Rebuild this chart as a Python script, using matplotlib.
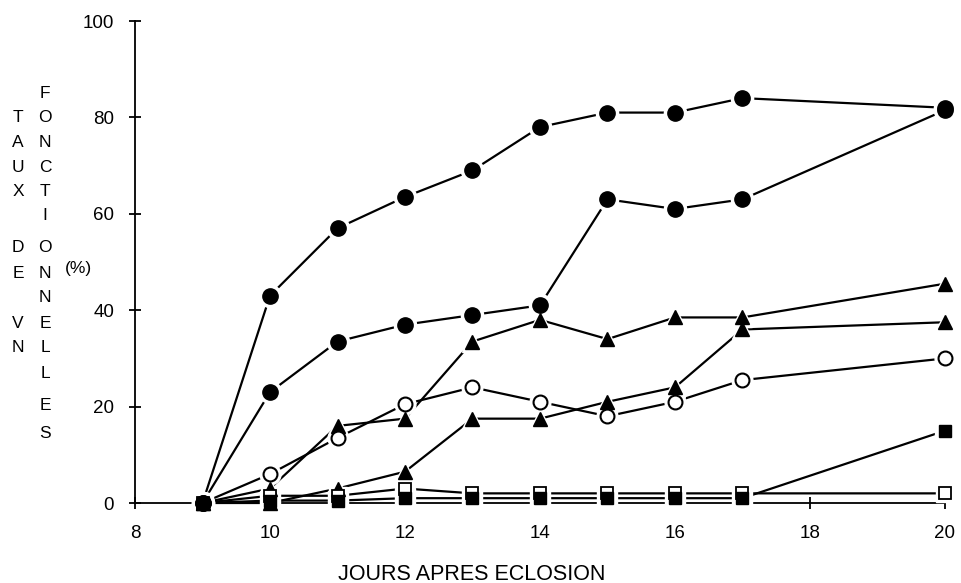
import matplotlib
matplotlib.use("Agg")
import matplotlib.pyplot as plt

plt.rcParams["font.family"] = ["Liberation Sans", "DejaVu Sans"]

# Days after hatching
days = [9, 10, 11, 12, 13, 14, 15, 16, 17, 20]

# Rate of functional VN (%) for each group
circ_fill_a = [0, 43, 57, 63.5, 69, 78, 81, 81, 84, 82]
circ_fill_b = [0, 23, 33.5, 37, 39, 41, 63, 61, 63, 81.5]
tri_a = [0, 3, 16, 17.5, 33.5, 38, 34, 38.5, 38.5, 45.5]
tri_b = [0, 0, 3, 6.5, 17.5, 17.5, 21, 24, 36, 37.5]
circ_open = [0, 6, 13.5, 20.5, 24, 21, 18, 21, 25.5, 30]
sq_fill = [0, 0.5, 0.5, 1, 1, 1, 1, 1, 1, 15]
sq_open = [0, 1.5, 1.5, 3, 2, 2, 2, 2, 2, 2]

xticks = [8, 10, 12, 14, 16, 18, 20]
yticks = [0, 20, 40, 60, 80, 100]

W, H = 962, 583
fig = plt.figure(figsize=(W / 100, H / 100), dpi=100)

# axes box in pixels: x=8 -> 135 px, x=20 -> 945 px ; y=0 -> 503 px, y=100 -> 21 px
xmin, xmax = 8, 20.25
ymin, ymax = -16, 104
pxx = (945 - 135) / 12.0
pxy = (503 - 21) / 100.0
left_px = 135
right_px = 135 + (xmax - xmin) * pxx
top_px = 503 - ymax * pxy
bot_px = 503 - ymin * pxy
ax = fig.add_axes([left_px / W, 1 - bot_px / H,
                   (right_px - left_px) / W, (bot_px - top_px) / H])
ax.set_xlim(xmin, xmax)
ax.set_ylim(ymin, ymax)

for s in ["top", "right"]:
    ax.spines[s].set_visible(False)
ax.spines["bottom"].set_position(("data", 0))
ax.spines["left"].set_position(("data", 8))
ax.spines["left"].set_bounds(0, 100)
ax.spines["bottom"].set_bounds(8, 20)
for s in ["left", "bottom"]:
    ax.spines[s].set_linewidth(1.3)

ax.set_xticks(xticks)
ax.set_yticks(yticks)
ax.tick_params(direction="inout", length=8, width=1.3, labelsize=13.5)
ax.tick_params(axis="x", pad=12)
ax.tick_params(axis="y", pad=11)

series = [
    (circ_fill_a, dict(marker="o", ms=11, mfc="black", mec="black")),
    (circ_fill_b, dict(marker="o", ms=11, mfc="black", mec="black")),
    (tri_a, dict(marker="^", ms=10, mfc="black", mec="black")),
    (tri_b, dict(marker="^", ms=10, mfc="black", mec="black")),
    (circ_open, dict(marker="o", ms=10, mfc="white", mec="black", mew=1.5)),
    (sq_open, dict(marker="s", ms=8, mfc="white", mec="black", mew=1.3)),
    (sq_fill, dict(marker="s", ms=9, mfc="black", mec="black")),
]

# connecting lines
for vals, _ in series:
    ax.plot(days, vals, color="black", lw=1.6, zorder=2, clip_on=False)
# white halos so the lines stop short of the symbols
for vals, st in series:
    ax.plot(days, vals, ls="none", marker=st["marker"], ms=st["ms"] + 5,
            mfc="white", mec="white", zorder=3, clip_on=False)
# symbols
for i, (vals, st) in enumerate(series):
    ax.plot(days, vals, ls="none", zorder=4 + i, clip_on=False, **st)

# stacked vertical axis title
col2 = "FONCTIONNELLES"
rows2 = [93, 118, 143, 167, 191, 215, 248, 273, 298, 323, 348, 373, 405, 433]
for ch, y in zip(col2, rows2):
    fig.text(45 / W, 1 - y / H, ch, ha="center", va="center", fontsize=12.5)
col1 = "TAUXDEVN"
rows1 = [rows2[1], rows2[2], rows2[3], rows2[4], rows2[6], rows2[7], rows2[9], rows2[10]]
for ch, y in zip(col1, rows1):
    fig.text(18 / W, 1 - y / H, ch, ha="center", va="center", fontsize=12.5)
fig.text(78 / W, 1 - 268 / H, "(%)", ha="center", va="center", fontsize=12.5)

fig.text(472 / W, 1 - 574 / H, "JOURS APRES ECLOSION", ha="center", va="center",
         fontsize=15.5)

fig.savefig("out.png", dpi=100)
